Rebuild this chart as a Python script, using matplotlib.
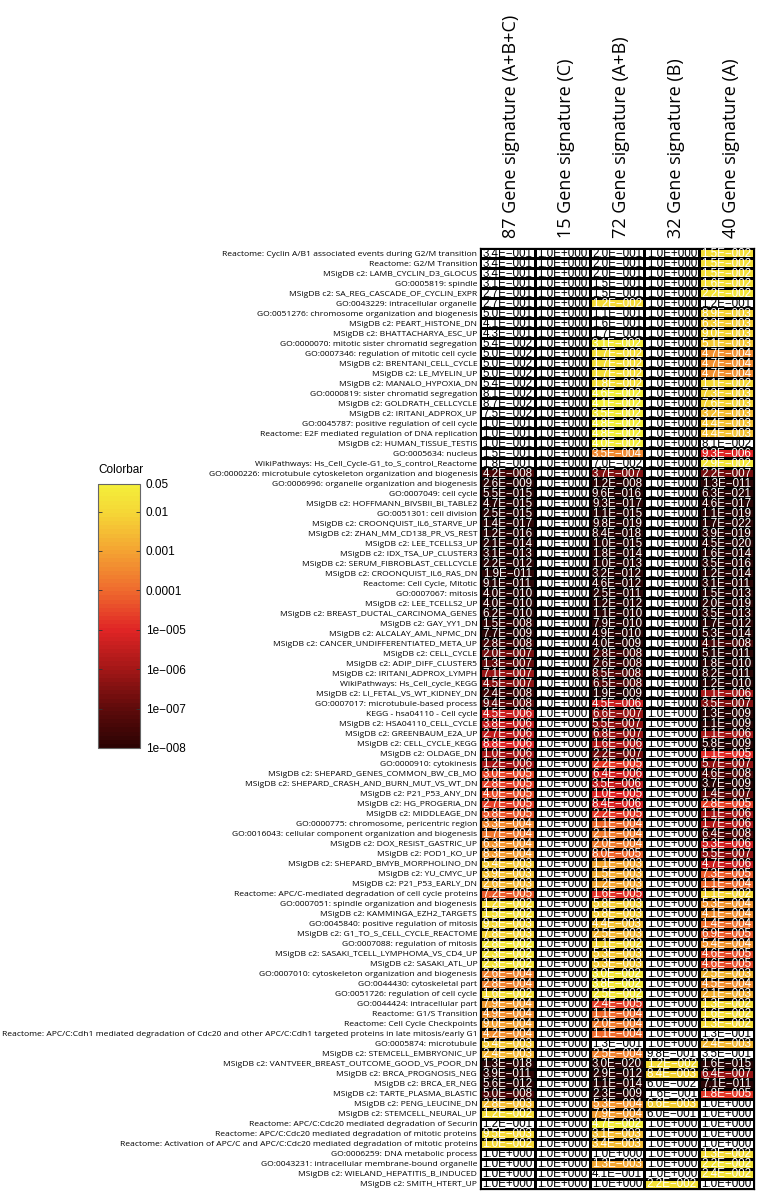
import numpy as np
import matplotlib
matplotlib.use("Agg")
import matplotlib.pyplot as plt
from matplotlib.colors import LinearSegmentedColormap, LogNorm
from matplotlib.transforms import ScaledTranslation

# gene set labels, top to bottom
terms = [
    "Reactome: Cyclin A/B1 associated events during G2/M transition",
    "Reactome: G2/M Transition",
    "MSigDB c2: LAMB_CYCLIN_D3_GLOCUS",
    "GO:0005819: spindle",
    "MSigDB c2: SA_REG_CASCADE_OF_CYCLIN_EXPR",
    "GO:0043229: intracellular organelle",
    "GO:0051276: chromosome organization and biogenesis",
    "MSigDB c2: PEART_HISTONE_DN",
    "MSigDB c2: BHATTACHARYA_ESC_UP",
    "GO:0000070: mitotic sister chromatid segregation",
    "GO:0007346: regulation of mitotic cell cycle",
    "MSigDB c2: BRENTANI_CELL_CYCLE",
    "MSigDB c2: LE_MYELIN_UP",
    "MSigDB c2: MANALO_HYPOXIA_DN",
    "GO:0000819: sister chromatid segregation",
    "MSigDB c2: GOLDRATH_CELLCYCLE",
    "MSigDB c2: IRITANI_ADPROX_UP",
    "GO:0045787: positive regulation of cell cycle",
    "Reactome: E2F mediated regulation of DNA replication",
    "MSigDB c2: HUMAN_TISSUE_TESTIS",
    "GO:0005634: nucleus",
    "WikiPathways: Hs_Cell_Cycle-G1_to_S_control_Reactome",
    "GO:0000226: microtubule cytoskeleton organization and biogenesis",
    "GO:0006996: organelle organization and biogenesis",
    "GO:0007049: cell cycle",
    "MSigDB c2: HOFFMANN_BIVSBII_BI_TABLE2",
    "GO:0051301: cell division",
    "MSigDB c2: CROONQUIST_IL6_STARVE_UP",
    "MSigDB c2: ZHAN_MM_CD138_PR_VS_REST",
    "MSigDB c2: LEE_TCELLS3_UP",
    "MSigDB c2: IDX_TSA_UP_CLUSTER3",
    "MSigDB c2: SERUM_FIBROBLAST_CELLCYCLE",
    "MSigDB c2: CROONQUIST_IL6_RAS_DN",
    "Reactome: Cell Cycle, Mitotic",
    "GO:0007067: mitosis",
    "MSigDB c2: LEE_TCELLS2_UP",
    "MSigDB c2: BREAST_DUCTAL_CARCINOMA_GENES",
    "MSigDB c2: GAY_YY1_DN",
    "MSigDB c2: ALCALAY_AML_NPMC_DN",
    "MSigDB c2: CANCER_UNDIFFERENTIATED_META_UP",
    "MSigDB c2: CELL_CYCLE",
    "MSigDB c2: ADIP_DIFF_CLUSTER5",
    "MSigDB c2: IRITANI_ADPROX_LYMPH",
    "WikiPathways: Hs_Cell_cycle_KEGG",
    "MSigDB c2: LI_FETAL_VS_WT_KIDNEY_DN",
    "GO:0007017: microtubule-based process",
    "KEGG - hsa04110 - Cell cycle",
    "MSigDB c2: HSA04110_CELL_CYCLE",
    "MSigDB c2: GREENBAUM_E2A_UP",
    "MSigDB c2: CELL_CYCLE_KEGG",
    "MSigDB c2: OLDAGE_DN",
    "GO:0000910: cytokinesis",
    "MSigDB c2: SHEPARD_GENES_COMMON_BW_CB_MO",
    "MSigDB c2: SHEPARD_CRASH_AND_BURN_MUT_VS_WT_DN",
    "MSigDB c2: P21_P53_ANY_DN",
    "MSigDB c2: HG_PROGERIA_DN",
    "MSigDB c2: MIDDLEAGE_DN",
    "GO:0000775: chromosome, pericentric region",
    "GO:0016043: cellular component organization and biogenesis",
    "MSigDB c2: DOX_RESIST_GASTRIC_UP",
    "MSigDB c2: POD1_KO_UP",
    "MSigDB c2: SHEPARD_BMYB_MORPHOLINO_DN",
    "MSigDB c2: YU_CMYC_UP",
    "MSigDB c2: P21_P53_EARLY_DN",
    "Reactome: APC/C-mediated degradation of cell cycle proteins",
    "GO:0007051: spindle organization and biogenesis",
    "MSigDB c2: KAMMINGA_EZH2_TARGETS",
    "GO:0045840: positive regulation of mitosis",
    "MSigDB c2: G1_TO_S_CELL_CYCLE_REACTOME",
    "GO:0007088: regulation of mitosis",
    "MSigDB c2: SASAKI_TCELL_LYMPHOMA_VS_CD4_UP",
    "MSigDB c2: SASAKI_ATL_UP",
    "GO:0007010: cytoskeleton organization and biogenesis",
    "GO:0044430: cytoskeletal part",
    "GO:0051726: regulation of cell cycle",
    "GO:0044424: intracellular part",
    "Reactome: G1/S Transition",
    "Reactome: Cell Cycle Checkpoints",
    "Reactome: APC/C:Cdh1 mediated degradation of Cdc20 and other APC/C:Cdh1 targeted proteins in late mitosis/early G1",
    "GO:0005874: microtubule",
    "MSigDB c2: STEMCELL_EMBRYONIC_UP",
    "MSigDB c2: VANTVEER_BREAST_OUTCOME_GOOD_VS_POOR_DN",
    "MSigDB c2: BRCA_PROGNOSIS_NEG",
    "MSigDB c2: BRCA_ER_NEG",
    "MSigDB c2: TARTE_PLASMA_BLASTIC",
    "MSigDB c2: PENG_LEUCINE_DN",
    "MSigDB c2: STEMCELL_NEURAL_UP",
    "Reactome: APC/C:Cdc20 mediated degradation of Securin",
    "Reactome: APC/C:Cdc20 mediated degradation of mitotic proteins",
    "Reactome: Activation of APC/C and APC/C:Cdc20 mediated degradation of mitotic proteins",
    "GO:0006259: DNA metabolic process",
    "GO:0043231: intracellular membrane-bound organelle",
    "MSigDB c2: WIELAND_HEPATITIS_B_INDUCED",
    "MSigDB c2: SMITH_HTERT_UP",
]

signatures = ["87 Gene signature (A+B+C)", "15 Gene signature (C)",
              "72 Gene signature (A+B)", "32 Gene signature (B)",
              "40 Gene signature (A)"]

# p-values per signature (column)
p_87 = [3.4e-1, 3.4e-1, 3.4e-1, 3.1e-1, 2.7e-1, 2.7e-1, 5.0e-1, 4.1e-1, 4.3e-1, 5.4e-2,
        5.0e-2, 5.0e-2, 5.0e-2, 5.4e-2, 8.1e-2, 8.7e-2, 7.5e-2, 1.0e-1, 1.0e-1, 1.0e-1,
        1.5e-1, 1.8e-1, 4.2e-8, 2.6e-9, 5.5e-15, 4.7e-15, 2.5e-15, 1.4e-17, 1.2e-16, 2.1e-14,
        3.1e-13, 2.2e-12, 1.9e-11, 9.1e-11, 4.0e-10, 4.0e-10, 6.2e-10, 1.5e-8, 7.7e-9, 2.8e-8,
        2.0e-7, 1.3e-7, 7.1e-7, 4.5e-7, 2.4e-8, 9.4e-8, 4.5e-6, 3.8e-6, 2.7e-6, 8.8e-6,
        1.0e-6, 1.2e-6, 3.0e-5, 2.8e-5, 4.0e-5, 2.7e-5, 5.8e-5, 3.3e-4, 1.7e-4, 6.3e-4,
        8.3e-4, 5.4e-3, 3.9e-3, 2.6e-3, 7.2e-5, 1.2e-2, 1.5e-2, 9.5e-3, 7.8e-3, 2.8e-2,
        2.3e-2, 2.3e-2, 2.6e-4, 2.8e-4, 1.6e-2, 7.9e-4, 4.9e-4, 9.0e-4, 4.2e-4, 5.4e-3,
        2.4e-3, 1.3e-18, 3.9e-11, 5.6e-12, 5.0e-8, 2.8e-3, 1.2e-2, 1.2e-1, 9.5e-3, 1.0e-2,
        1.0, 1.0, 1.0, 1.0]
p_15 = [1.0] * 94
p_72 = [2.0e-1, 2.0e-1, 2.0e-1, 1.5e-1, 1.5e-1, 1.2e-2, 1.1e-1, 1.6e-1, 1.7e-1, 3.1e-2,
        1.7e-2, 1.7e-2, 1.7e-2, 1.8e-2, 4.6e-2, 4.1e-2, 3.5e-2, 4.8e-2, 4.8e-2, 4.0e-2,
        3.5e-4, 7.0e-2, 3.7e-7, 1.2e-8, 9.6e-16, 9.3e-17, 1.1e-15, 9.8e-19, 8.4e-18, 1.0e-15,
        1.8e-14, 1.0e-13, 3.2e-12, 4.6e-12, 2.5e-11, 1.2e-12, 1.1e-10, 7.9e-10, 4.9e-10, 4.0e-9,
        2.8e-8, 2.6e-8, 8.5e-8, 6.5e-8, 1.9e-9, 4.5e-6, 6.6e-7, 5.5e-7, 6.8e-7, 1.6e-6,
        2.2e-7, 2.2e-5, 6.4e-6, 3.5e-6, 1.0e-5, 8.4e-6, 2.2e-5, 1.1e-4, 2.1e-4, 2.0e-4,
        8.0e-5, 1.1e-3, 1.5e-3, 1.2e-3, 1.6e-5, 5.8e-3, 5.8e-3, 4.4e-3, 2.5e-3, 1.1e-2,
        5.3e-3, 5.3e-3, 3.0e-2, 3.8e-2, 2.5e-2, 2.4e-5, 1.1e-4, 2.0e-4, 1.1e-4, 1.3e-1,
        2.5e-4, 3.0e-20, 2.9e-12, 1.1e-14, 2.3e-9, 5.3e-4, 7.9e-4, 4.7e-2, 3.1e-3, 3.4e-3,
        1.0, 1.3e-3, 4.1e-1, 1.0]
p_32 = [1.0] * 80 + [9.8e-1, 1.2e-2, 8.4e-3, 6.0e-2, 1.6e-1, 6.6e-3, 6.0e-1,
                     1.0, 1.0, 1.0, 1.0, 1.0, 1.0, 2.2e-2]
p_40 = [1.5e-2, 1.5e-2, 1.5e-2, 1.6e-2, 2.2e-2, 1.2e-1, 8.9e-3, 6.3e-3, 9.0e-3, 5.1e-3,
        4.7e-4, 4.7e-4, 4.7e-4, 1.1e-2, 7.3e-3, 7.6e-3, 3.2e-3, 4.4e-3, 4.4e-3, 8.1e-2,
        9.3e-6, 2.9e-2, 2.2e-7, 1.3e-11, 6.3e-21, 4.6e-17, 1.1e-19, 1.7e-22, 3.9e-19, 4.5e-20,
        1.6e-14, 3.5e-16, 1.2e-14, 3.1e-11, 1.5e-13, 2.0e-19, 3.5e-13, 1.7e-12, 5.3e-14, 4.1e-8,
        5.1e-11, 1.8e-10, 8.2e-11, 1.2e-10, 1.1e-6, 3.5e-7, 1.3e-9, 1.1e-9, 1.1e-6, 5.8e-9,
        1.1e-5, 5.7e-7, 4.6e-8, 3.7e-9, 1.4e-7, 2.8e-5, 1.1e-6, 1.7e-6, 6.4e-8, 5.3e-6,
        5.5e-7, 4.7e-6, 7.3e-5, 1.1e-4, 1.1e-2, 5.3e-4, 4.1e-4, 1.4e-4, 6.9e-5, 5.4e-4,
        4.6e-5, 4.6e-5, 2.5e-3, 4.5e-4, 2.1e-3, 1.3e-2, 1.6e-2, 1.3e-2, 1.3e-1, 2.4e-3,
        3.5e-1, 1.6e-15, 6.4e-7, 7.1e-11, 1.8e-5, 1.0, 1.0, 1.0, 1.0, 1.0,
        1.3e-2, 2.2e-2, 2.4e-2, 1.0]

cbar_ticks = [0.05, 0.01, 0.001, 0.0001, 1e-5, 1e-6, 1e-7, 1e-8]
cbar_labels = ["0.05", "0.01", "0.001", "0.0001", "1e\u2212005", "1e\u2212006",
               "1e\u2212007", "1e\u2212008"]

pvals = np.array([p_87, p_15, p_72, p_32, p_40]).T

# log colour scale from 1e-8 (dark) to 0.05 (yellow); p >= 0.05 is left white
norm = LogNorm(vmin=1e-8, vmax=0.05)
d = lambda v: (np.log10(v) + 8) / (np.log10(0.05) + 8)
cmap = LinearSegmentedColormap.from_list("pv", [
    (0.0, "#2c0303"), (d(1e-7), "#600b0b"), (d(1e-6), "#a41717"), (d(1e-5), "#e02525"),
    (d(1e-4), "#ef6a2e"), (d(1e-3), "#f4a232"), (d(1e-2), "#f5d636"), (1.0, "#f4ee3a")], N=64)
cmap.set_under("#2a0606")
cmap.set_over("white")
cmap.set_bad("white")

fig = plt.figure(figsize=(7.58, 11.93), dpi=100)
W, H = 758, 1193
ax = fig.add_axes([480 / W, 1 - 1189 / H, 274 / W, 941 / H])

masked = np.ma.masked_where(pvals >= 0.05, pvals)
mesh = ax.pcolormesh(np.arange(6), np.arange(len(terms) + 1), masked, cmap=cmap,
                     norm=norm, edgecolors="black", linewidth=0.9)
ax.set_xlim(0, 5)
ax.set_ylim(len(terms), 0)


def fmt(v):
    m, e = f"{v:.1E}".split("E")
    return f"{m}E{int(e):+04d}".replace("-", "\u2212")


for i in range(pvals.shape[0]):
    for j in range(pvals.shape[1]):
        v = pvals[i, j]
        ax.text(j + 0.5, i + 0.55, fmt(v), ha="center", va="center",
                fontsize=8.4, family="Liberation Sans",
                color="white" if v < 0.05 else "black")

# row labels: size chosen so the longest label spans the left margin
ax.set_yticks(np.arange(len(terms)) + 0.5)
ylabs = ax.set_yticklabels(terms, fontsize=10, family="Open Sans")
r = fig.canvas.get_renderer()
wmax = max(t.get_window_extent(r).width for t in ylabs)
for t in ylabs:
    t.set_fontsize(10 * 472 / wmax)

ax.set_xticks(np.arange(5) + 0.5)
ax.set_xticklabels(signatures, rotation=90, fontsize=13, family="Open Sans")
ax.xaxis.tick_top()
ax.tick_params(length=0, pad=2)
ax.tick_params(axis="x", pad=7)
shift = ScaledTranslation(4 / 100, 0, fig.dpi_scale_trans)
for lab in ax.get_xticklabels():
    lab.set_transform(lab.get_transform() + shift)
for s in ax.spines.values():
    s.set_linewidth(0.9)

# colorbar
cax = fig.add_axes([98 / W, 1 - 748 / H, 42 / W, 264 / H])
cb = fig.colorbar(mesh, cax=cax)
cb.set_ticks(cbar_ticks)
cb.set_ticklabels(cbar_labels)
cb.minorticks_off()
cax.tick_params(direction="in", left=True, right=True, length=3, labelsize=8.5,
                width=0.6, color="#333333", pad=4)
for lab in cax.get_yticklabels():
    lab.set_family("Liberation Sans")
cb.outline.set_edgecolor("#666666")
cax.set_title("Colorbar", fontsize=8.5, family="Liberation Sans", loc="left", pad=8)

fig.savefig("out.png", dpi=100)
